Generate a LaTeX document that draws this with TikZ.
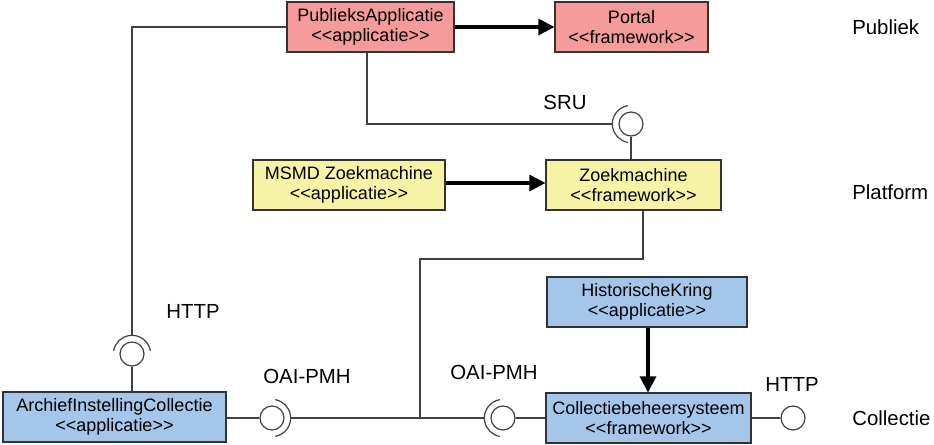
\documentclass[tikz,border=0pt]{standalone}
\usepackage{fontspec}
\setmainfont{Liberation Sans}[Ligatures=TeXOff]
\usetikzlibrary{arrows.meta}

\definecolor{pubred}{RGB}{245,155,155}
\definecolor{platyellow}{RGB}{247,243,166}
\definecolor{colblue}{RGB}{164,198,234}
\newcommand{\stereo}[1]{<{}<#1>{}>}

\begin{document}
\begin{tikzpicture}[x=0.75pt, y=-0.75pt,
  wire/.style={line width=0.9pt, draw=black!75},
  comp/.style={rectangle, draw=black!80, line width=0.9pt, align=center, inner sep=0pt,
    font=\fontsize{13.5}{15.5}\selectfont},
  lolli/.style={circle, draw=black!75, fill=white, line width=0.9pt, minimum size=18pt, inner sep=0pt},
  lab/.style={font=\fontsize{15.3}{18}\selectfont},
  dep/.style={draw=black, line width=2.4pt, -{Triangle[length=12pt,width=12pt]}}]
\useasboundingbox (0,0) rectangle (934,444);

% components
\node[comp, fill=pubred, minimum width=125.25pt, minimum height=37.5pt] (pa) at (370.5,27) {PublieksApplicatie\\\stereo{applicatie}};
\node[comp, fill=pubred, minimum width=114.75pt, minimum height=37.5pt] (portal) at (631.5,27) {Portal\\\stereo{framework}};
\node[comp, fill=platyellow, minimum width=144pt, minimum height=37.5pt] (msmd) at (349,185) {MSMD Zoekmachine\\\stereo{applicatie}};
\node[comp, fill=platyellow, minimum width=131.25pt, minimum height=37.5pt] (zoek) at (633.5,185) {Zoekmachine\\\stereo{framework}};
\node[comp, fill=colblue, minimum width=150pt, minimum height=37.5pt] (hk) at (647,302) {HistorischeKring\\\stereo{applicatie}};
\node[comp, fill=colblue, minimum width=153.75pt, minimum height=37.5pt] (cbs) at (648.5,418) {Collectiebeheersysteem\\\stereo{framework}};
\node[comp, fill=colblue, minimum width=167.25pt, minimum height=37.5pt] (aic) at (114.5,417) {ArchiefInstellingCollectie\\\stereo{applicatie}};

% interfaces
\node[lolli] (sru) at (631,124) {};
\node[lolli] (httpA) at (132,354) {};
\node[lolli] (oaiA) at (272,418) {};
\node[lolli] (oaiB) at (503,418) {};
\node[lolli] (httpB) at (793,418) {};

% sockets
\draw[wire] ([shift={(100:14pt)}]sru.center) arc[start angle=100, end angle=260, radius=14pt];
\draw[wire] ([shift={(10:14pt)}]httpA.center) arc[start angle=10, end angle=170, radius=14pt];
\draw[wire] ([shift={(-80:14pt)}]oaiA.center) arc[start angle=-80, end angle=80, radius=14pt];
\draw[wire] ([shift={(100:14pt)}]oaiB.center) arc[start angle=100, end angle=260, radius=14pt];

\coordinate (sruin) at ([xshift=-14pt]sru.center);
\coordinate (httpin) at ([yshift=14pt]httpA.center);
\coordinate (oaiout) at ([xshift=14pt]oaiA.center);
\coordinate (oaiin) at ([xshift=-14pt]oaiB.center);
\coordinate (join) at (420,418);

% connectors
\draw[wire] (pa.west) -| (httpin);
\draw[wire] (pa.south -| 367,0) |- (sruin);
\draw[wire] (sru) -- (sru |- zoek.north);
\draw[wire] (httpA) -- (httpA |- aic.north);
\draw[wire] (aic.east |- oaiA) -- (oaiA);
\draw[wire] (oaiout) -- (oaiin);
\draw[wire] (oaiB) -- (cbs.west |- oaiB);
\draw[wire] (cbs.east |- httpB) -- (httpB);
\draw[wire] (zoek.south -| 643,0) -- (643,259) -| (join);

\draw[dep] (pa.east) -- (portal.west);
\draw[dep] (msmd.east |- 0,183) -- (zoek.west |- 0,183);
\draw[dep] (hk.south -| 648,0) -- (cbs.north -| 648,0);

% labels
\node[lab] (lsru) at (565,102) {SRU};
\node[lab] (lhttpA) at (193,311) {HTTP};
\node[lab] (loaiA) at (307,376) {OAI-PMH};
\node[lab] (loaiB) at (494,372) {OAI-PMH};
\node[lab] (lhttpB) at (792,384) {HTTP};
\node[lab, anchor=west, inner xsep=0pt] (lpub) at (852,27) {Publiek};
\node[lab, anchor=west, inner xsep=0pt] (lplat) at (852,192) {Platform};
\node[lab, anchor=west, inner xsep=0pt] (lcol) at (852,418) {Collectie};
\end{tikzpicture}
\end{document}
